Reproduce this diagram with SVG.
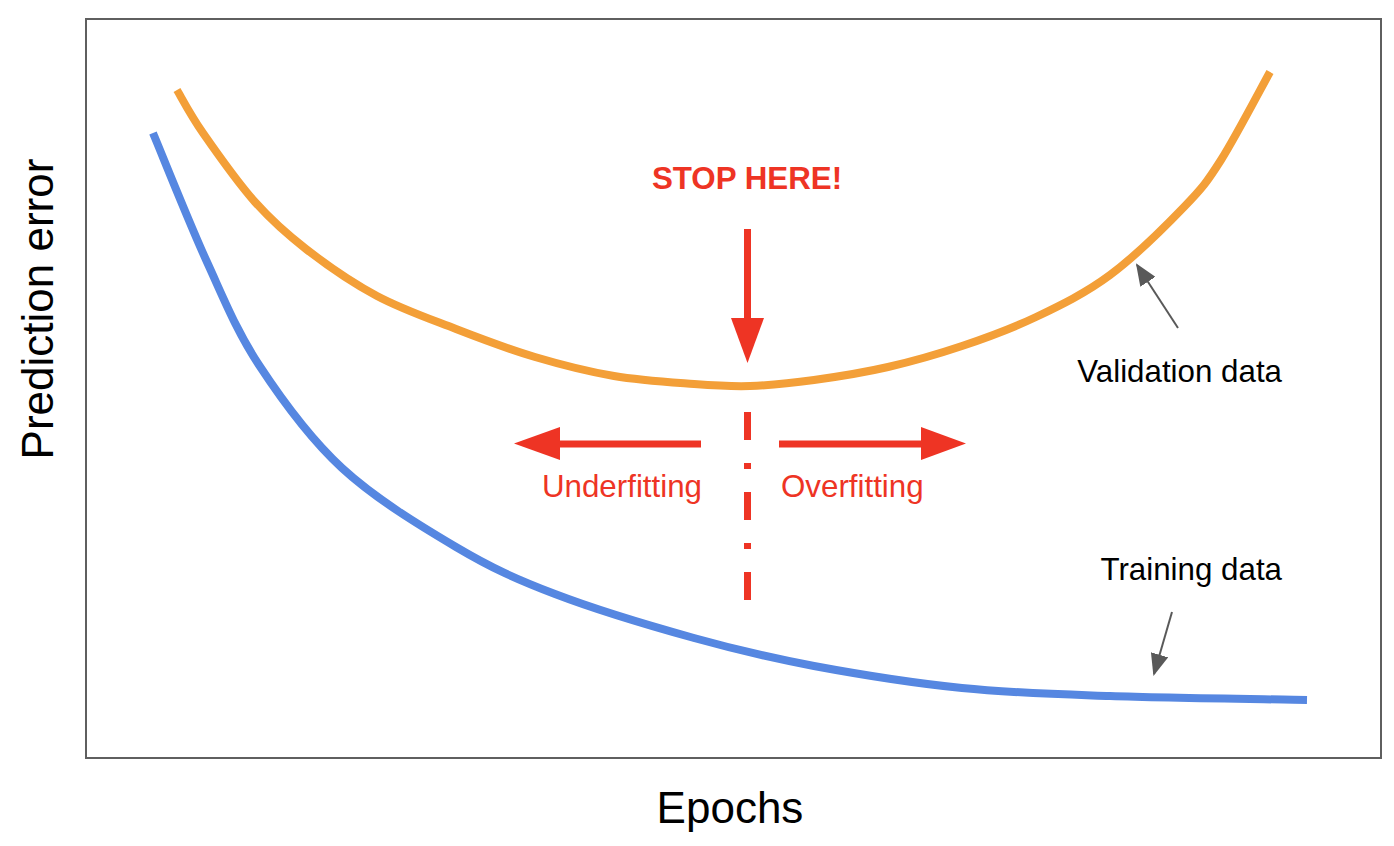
<svg xmlns="http://www.w3.org/2000/svg" width="1394" height="846" viewBox="0 0 1394 846">
  <style>
    .lbl { font-family: "Liberation Sans", Arial, sans-serif; font-size: 31.3px; }
    .axis { font-family: "Liberation Sans", Arial, sans-serif; font-size: 44px; fill: #000; }
    .red { fill: #ee3424; }
    .blk { fill: #000; }
    .curve { fill: none; stroke-width: 8; stroke-linejoin: round; }
    .ptr { stroke: #595959; stroke-width: 2; fill: none; marker-end: url(#gh); }
  </style>
  <defs>
    <marker id="gh" markerUnits="userSpaceOnUse" markerWidth="22" markerHeight="18" viewBox="0 0 22 18" refX="20" refY="9" orient="auto">
      <path d="M0,0 L22,9 L0,18 Z" fill="#595959"/>
    </marker>
  </defs>
  <rect width="1394" height="846" fill="#fff"/>
  <g id="frame">
    <rect x="86" y="19" width="1295" height="739" fill="none" stroke="#5f5f5f" stroke-width="2"/>
  </g>
  <g id="axis-y">
    <text class="axis" text-anchor="middle" transform="translate(53,309) rotate(-90)">Prediction error</text>
  </g>
  <g id="axis-x">
    <text class="axis" x="730" y="823" text-anchor="middle">Epochs</text>
  </g>
  <g id="validation-curve">
    <path class="curve" stroke="#f39f38" d="M177,90 C181.3,97.2 190,114.3 203,133 C216,151.7 237.8,182.7 255,202 C272.2,221.3 285.7,233.3 306,249 C326.3,264.7 352,282.7 377,296 C402,309.3 429.7,318.8 456,329 C482.3,339.2 508.7,349.2 535,357 C561.3,364.8 587.5,371.5 614,376 C640.5,380.5 671.3,382.3 694,384 C716.7,385.7 730,386.7 750,386 C770,385.3 791,383.2 814,380 C837,376.8 863.3,372.7 888,367 C912.7,361.3 937.3,354.3 962,346 C986.7,337.7 1011.3,328.8 1036,317 C1060.7,305.2 1085.3,293.3 1110,275 C1134.7,256.7 1165.5,226.2 1184,207 C1202.5,187.8 1206.7,182.5 1221,160 C1235.3,137.5 1261.8,86.7 1270,72"/>
  </g>
  <g id="training-curve">
    <path class="curve" stroke="#5687e1" d="M153,133 C162,154.5 189.3,223.3 207,262 C224.7,300.7 236.5,330.7 259,365 C281.5,399.3 309.2,437.7 342,468 C374.8,498.3 420.5,526 456,547 C491.5,568 515.3,578.8 555,594 C594.7,609.2 650.8,626 694,638 C737.2,650 769.3,657.7 814,666 C858.7,674.3 912.7,683 962,688 C1011.3,693 1052.5,694 1110,696 C1167.5,698 1274.2,699.3 1307,700"/>
  </g>
  <g id="stop-here">
    <text class="lbl red" x="747" y="189" text-anchor="middle" font-weight="bold">STOP HERE!</text>
  </g>
  <g id="underfitting">
    <text class="lbl red" x="702" y="497" text-anchor="end">Underfitting</text>
  </g>
  <g id="overfitting">
    <text class="lbl red" x="781" y="497">Overfitting</text>
  </g>
  <g id="validation-label">
    <text class="lbl blk" x="1282" y="382" text-anchor="end">Validation data</text>
  </g>
  <g id="training-label">
    <text class="lbl blk" x="1282" y="580" text-anchor="end">Training data</text>
  </g>
  <g id="connectors">
    <g id="stop-arrow" fill="#ee3424">
      <rect x="744" y="229" width="7" height="91"/>
      <polygon points="731,318 764,318 747.5,363"/>
    </g>
    <line id="stop-line" x1="747.5" y1="412" x2="747.5" y2="600" stroke="#ee3424" stroke-width="7" stroke-dasharray="28 23 6 23"/>
    <g id="under-arrow" fill="#ee3424">
      <rect x="558" y="440.5" width="143" height="7"/>
      <polygon points="560,427 560,460 514,443.5"/>
    </g>
    <g id="over-arrow" fill="#ee3424">
      <rect x="779" y="440.5" width="144" height="7"/>
      <polygon points="921,427 921,460 966,443.5"/>
    </g>
    <line class="ptr" x1="1178" y1="328" x2="1137" y2="265"/>
    <line class="ptr" x1="1172" y1="612" x2="1154" y2="674"/>
  </g>
</svg>
